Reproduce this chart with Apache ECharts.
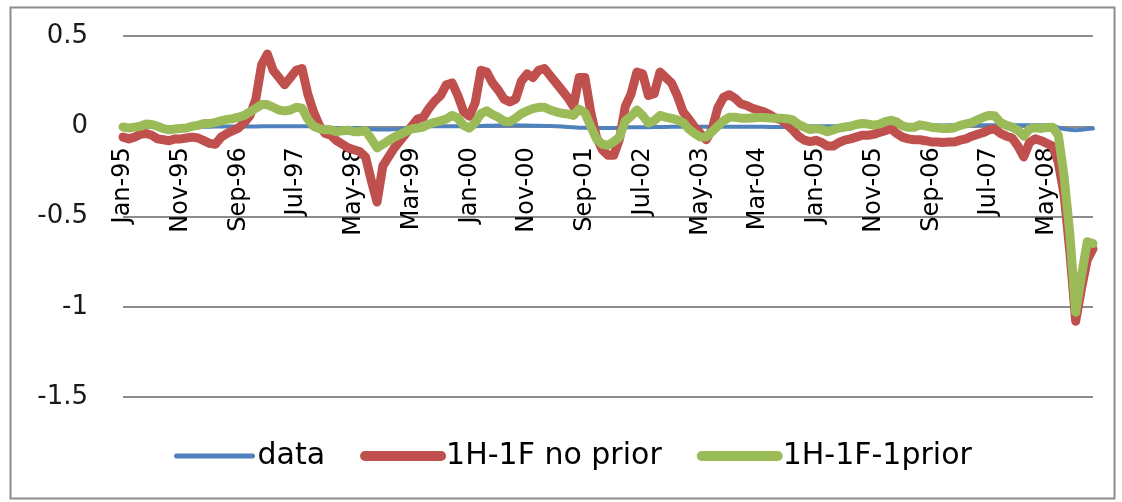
<!DOCTYPE html>
<html>
<head>
<meta charset="utf-8">
<script src="https://cdn.jsdelivr.net/npm/echarts@6/dist/echarts.min.js"></script>
<style>
html,body{margin:0;padding:0;background:#fff;}
#c{width:1122px;height:502px;}
</style>
</head>
<body>
<div id="c"></div>
<script>
// Month labels (Jan-95 ... Jan-09)
const monthNames = ['Jan','Feb','Mar','Apr','May','Jun','Jul','Aug','Sep','Oct','Nov','Dec'];
const yearLabels = ['95','96','97','98','99','00','01','02','03','04','05','06','07','08','09'];
const categories = [];
for (let y = 0; y < yearLabels.length; y++) {
  for (let m = 0; m < 12; m++) {
    if (y === yearLabels.length - 1 && m > 0) break;
    categories.push(monthNames[m] + '-' + yearLabels[y]);
  }
}
const seriesNames = ['data', '1H-1F no prior', '1H-1F-1prior'];
const yTicks = [-1.5, -1, -0.5, 0, 0.5];

const dataSeries = [
  -0.005,-0.005,-0.004,-0.003,-0.003,-0.004,-0.005,-0.005,-0.005,-0.004,
  -0.004,-0.004,-0.003,-0.003,-0.003,-0.003,-0.002,-0.002,-0.002,-0.002,
  -0.002,-0.002,-0.001,-0.001,0.0,0.0,0.0,0.0,0.0,0.0,
  0.0,0.0,0.0,-0.002,-0.004,-0.005,-0.008,-0.01,-0.01,-0.01,
  -0.01,-0.012,-0.014,-0.016,-0.018,-0.018,-0.018,-0.017,-0.015,-0.012,
  -0.008,-0.005,-0.002,0.0,0.0,0.0,0.0,0.0,0.0,0.0,
  0.0,0.0,0.002,0.003,0.003,0.004,0.005,0.005,0.005,0.004,
  0.004,0.003,0.003,0.002,0.001,0.0,-0.002,-0.004,-0.006,-0.008,
  -0.008,-0.01,-0.01,-0.01,-0.01,-0.01,-0.008,-0.006,-0.005,-0.005,
  -0.005,-0.005,-0.004,-0.004,-0.004,-0.003,-0.003,-0.003,-0.003,-0.003,
  -0.003,-0.003,-0.003,-0.003,-0.003,-0.003,-0.003,-0.003,-0.003,-0.003,
  -0.003,-0.003,-0.004,-0.004,-0.004,-0.004,-0.003,-0.002,-0.001,0.0,
  0.0,0.0,0.0,0.0,0.001,0.002,0.002,0.002,0.002,0.002,
  0.002,0.002,0.003,0.003,0.003,0.003,0.003,0.003,0.003,0.003,
  0.003,0.004,0.004,0.005,0.005,0.005,0.006,0.006,0.006,0.006,
  0.006,0.006,0.006,0.005,0.005,0.005,0.005,0.005,0.005,0.005,
  0.005,0.005,-0.008,-0.015,-0.02,-0.022,-0.02,-0.015,-0.013
];

const noPrior = [
  -0.06,-0.07,-0.06,-0.045,-0.04,-0.05,-0.07,-0.075,-0.08,-0.07,
  -0.07,-0.065,-0.06,-0.065,-0.08,-0.095,-0.1,-0.06,-0.04,-0.025,
  -0.01,0.02,0.06,0.15,0.34,0.40,0.31,0.27,0.23,0.27,
  0.31,0.32,0.18,0.08,0.005,-0.04,-0.05,-0.08,-0.1,-0.12,
  -0.13,-0.14,-0.17,-0.30,-0.42,-0.22,-0.17,-0.12,-0.08,-0.04,
  0.0,0.04,0.05,0.10,0.14,0.17,0.23,0.24,0.17,0.08,
  0.055,0.13,0.31,0.30,0.24,0.20,0.15,0.135,0.15,0.25,
  0.29,0.27,0.31,0.32,0.28,0.24,0.20,0.16,0.11,0.27,
  0.27,0.08,-0.06,-0.13,-0.16,-0.16,-0.07,0.11,0.18,0.30,
  0.29,0.17,0.18,0.30,0.27,0.24,0.17,0.08,0.04,-0.005,
  -0.04,-0.075,-0.02,0.10,0.16,0.175,0.155,0.125,0.115,0.10,
  0.09,0.08,0.065,0.045,0.035,0.01,-0.02,-0.055,-0.077,-0.085,
  -0.078,-0.09,-0.11,-0.11,-0.09,-0.077,-0.07,-0.06,-0.05,-0.05,
  -0.045,-0.035,-0.025,-0.013,-0.04,-0.06,-0.07,-0.075,-0.075,-0.08,
  -0.087,-0.087,-0.09,-0.087,-0.087,-0.077,-0.07,-0.055,-0.045,-0.035,
  -0.02,-0.015,-0.04,-0.055,-0.065,-0.11,-0.17,-0.09,-0.07,-0.08,
  -0.095,-0.11,-0.2,-0.38,-0.7,-1.08,-0.9,-0.74,-0.68
];

const withPrior = [
  -0.004,-0.01,-0.005,0.0,0.012,0.01,0.0,-0.013,-0.02,-0.015,
  -0.012,-0.01,0.0,0.005,0.015,0.015,0.022,0.03,0.038,0.042,
  0.05,0.06,0.08,0.10,0.12,0.12,0.105,0.09,0.085,0.09,
  0.105,0.10,0.04,0.0,-0.013,-0.02,-0.02,-0.03,-0.025,-0.022,
  -0.03,-0.03,-0.025,-0.07,-0.12,-0.10,-0.08,-0.06,-0.045,-0.03,
  -0.015,-0.01,-0.004,0.012,0.022,0.03,0.04,0.06,0.045,0.005,
  -0.01,0.02,0.07,0.085,0.065,0.05,0.028,0.025,0.045,0.07,
  0.085,0.098,0.105,0.105,0.09,0.08,0.072,0.068,0.06,0.095,
  0.075,0.0,-0.07,-0.10,-0.105,-0.085,-0.06,0.03,0.055,0.09,
  0.06,0.018,0.03,0.06,0.05,0.044,0.035,0.02,-0.015,-0.04,
  -0.06,-0.06,-0.03,0.0,0.03,0.05,0.05,0.045,0.044,0.046,
  0.048,0.048,0.046,0.045,0.044,0.042,0.035,0.01,-0.005,-0.018,
  -0.013,-0.018,-0.03,-0.02,-0.01,-0.004,0.0,0.01,0.015,0.012,
  0.006,0.012,0.025,0.033,0.024,0.002,-0.006,-0.006,0.008,0.002,
  -0.005,-0.008,-0.012,-0.013,-0.008,0.005,0.013,0.02,0.035,0.05,
  0.06,0.058,0.02,0.005,-0.005,-0.022,-0.055,-0.015,-0.008,-0.012,
  -0.007,-0.005,-0.05,-0.28,-0.6,-1.03,-0.83,-0.64,-0.65
];

const colors = ['#4F81BD', '#C0504D', '#9BBB59'];
const widths = [4, 9, 9];
const legendWidths = [5, 10, 10];
const seriesValues = [dataSeries, noPrior, withPrior];

const gridTop = 36, gridBottom = 105, chartH = 502;
const chart = echarts.init(document.getElementById('c'), null, {renderer: 'canvas'});
// pixel distance from grid bottom to the zero line, via the value range
const plotH = chartH - gridTop - gridBottom;
const zeroOffset = plotH * (0 - yTicks[0]) / (yTicks[yTicks.length - 1] - yTicks[0]);

chart.setOption({
  animation: false,
  backgroundColor: '#fff',
  color: colors,
  graphic: [{
    type: 'rect', left: 8, top: 5, shape: {width: 1104, height: 491},
    style: {fill: 'none', stroke: '#8c8c8c', lineWidth: 2}, silent: true, z: -1
  }],
  grid: {left: 123, right: 29, top: gridTop, bottom: gridBottom, containLabel: false},
  legend: {
    bottom: 26, left: 169,
    itemWidth: 76, itemHeight: 14, itemGap: 35,
    textStyle: {fontFamily: 'DejaVu Sans', fontSize: 30, color: '#000'},
    itemStyle: {opacity: 0},
    data: seriesNames.map((n, k) => ({
      name: n,
      itemStyle: {opacity: 0, color: 'rgba(0,0,0,0)', borderWidth: 0},
      lineStyle: {width: legendWidths[k], color: colors[k], cap: 'round'}
    }))
  },
  xAxis: {
    type: 'category', data: categories, boundaryGap: false,
    offset: -zeroOffset,
    axisLine: {onZero: false, lineStyle: {color: '#8c8c8c', width: 2}},
    axisTick: {show: false},
    axisLabel: {interval: 9, rotate: 90, margin: 21, fontFamily: 'DejaVu Sans', fontSize: 24, color: '#000'},
    splitLine: {show: false}
  },
  yAxis: {
    type: 'value', min: yTicks[0], max: yTicks[yTicks.length - 1], interval: 0.5,
    axisLine: {show: false}, axisTick: {show: false},
    axisLabel: {margin: 35, fontFamily: 'DejaVu Sans', fontSize: 26, color: '#1a1a1a'},
    splitLine: {lineStyle: {color: '#8c8c8c', width: 2}}
  },
  series: seriesNames.map((n, k) => ({
    name: n, type: 'line', data: seriesValues[k], symbol: 'circle', showSymbol: false,
    lineStyle: {color: colors[k], width: widths[k], cap: 'round', join: 'round'},
    itemStyle: {color: colors[k]},
    z: 2 + k
  }))
});
</script>
</body>
</html>
